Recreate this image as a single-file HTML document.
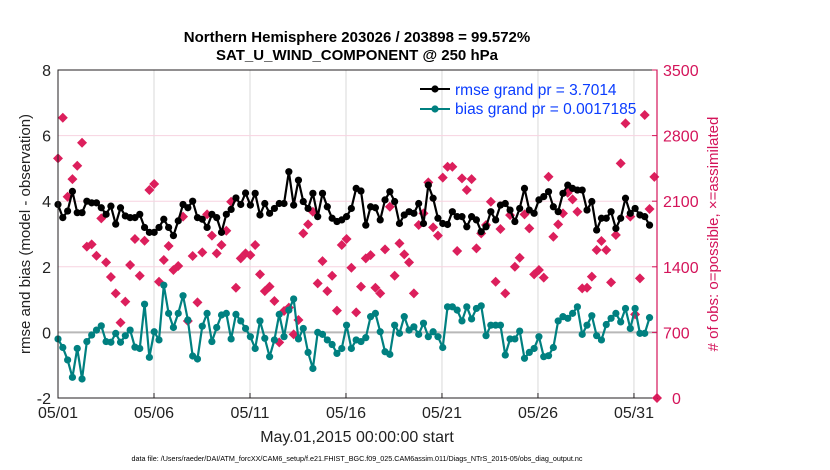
<!DOCTYPE html>
<html><head><meta charset="utf-8"><style>
html,body{margin:0;padding:0;background:#fff;}
svg{display:block;font-family:"Liberation Sans",Arial,sans-serif;}
</style></head><body>
<svg id="chart" width="830" height="470" viewBox="0 0 830 470">
<rect width="830" height="470" fill="#fff"/>
<text x="357" y="42" text-anchor="middle" font-size="15" font-weight="bold" fill="#000">Northern Hemisphere 203026 / 203898 = 99.572%</text>
<text x="357" y="60" text-anchor="middle" font-size="15" font-weight="bold" fill="#000">SAT_U_WIND_COMPONENT @ 250 hPa</text>
<g id="grid"></g>
<g id="series"></g>
<rect x="58" y="70" width="599" height="328" fill="none" stroke="#231f20" stroke-width="1"/>
<line x1="657" y1="70" x2="657" y2="398" stroke="#d4145a" stroke-width="1.2"/>
<g id="axes"></g>
<text transform="translate(30,234) rotate(-90)" text-anchor="middle" font-size="15" fill="#222">rmse and bias (model - observation)</text>
<text transform="translate(718,234) rotate(-90)" text-anchor="middle" font-size="15" fill="#d4145a"># of obs: o=possible, ×=assimilated</text>
<text x="357" y="442" text-anchor="middle" font-size="16" fill="#222">May.01,2015 00:00:00 start</text>
<text x="357" y="461" text-anchor="middle" font-size="7.2" fill="#000">data file: /Users/raeder/DAI/ATM_forcXX/CAM6_setup/f.e21.FHIST_BGC.f09_025.CAM6assim.011/Diags_NTrS_2015-05/obs_diag_output.nc</text>
<g>
<line x1="420" y1="89" x2="450" y2="89" stroke="#000" stroke-width="2"/>
<circle cx="435" cy="89" r="3.6" fill="#000"/>
<text x="455" y="95" font-size="15.5" fill="#0a3cff">rmse grand pr = 3.7014</text>
<line x1="420" y1="109" x2="450" y2="109" stroke="#008080" stroke-width="2"/>
<circle cx="435" cy="109" r="3.6" fill="#008080"/>
<text x="455" y="114" font-size="15.5" fill="#0a3cff">bias grand pr = 0.0017185</text>
</g>
</svg>
<script>
const rmseVals=[3.9,3.5,3.7,4.3,3.65,3.65,4.0,3.95,3.95,3.8,3.6,3.85,3.3,3.8,3.55,3.5,3.5,3.6,3.2,3.05,3.05,3.2,3.45,3.2,2.95,3.4,3.9,3.8,4.0,3.5,3.45,3.2,3.6,3.5,3.05,3.6,3.75,4.1,3.9,4.25,
3.88,4.24,3.58,3.93,3.63,3.78,3.93,3.93,4.90,3.88,4.64,3.99,3.78,4.24,3.53,4.24,3.83,3.48,3.38,3.43,3.53,3.78,4.39,4.31,3.27,3.83,3.80,3.43,4.04,4.29,3.99,3.32,3.58,3.68,3.63,3.93,3.32,4.49,4.09,3.48,3.32,3.29,
3.68,3.53,3.53,3.22,3.53,3.43,3.07,3.22,3.68,3.43,3.88,3.93,3.73,3.38,3.78,4.39,3.73,3.63,4.04,4.14,4.29,3.83,3.68,4.24,4.49,4.39,4.34,4.34,3.73,3.99,3.12,3.48,3.48,3.68,3.17,3.48,4.09,3.63,3.78,3.58,3.53,3.27];
const biasVals=[-0.20,-0.46,-0.84,-1.37,-0.49,-1.42,-0.28,-0.08,0.07,0.20,-0.28,-0.30,-0.03,-0.30,-0.10,0.07,-0.45,-0.49,0.86,-0.76,0.02,-0.23,1.44,0.58,0.15,0.58,1.12,0.38,-0.72,-0.81,0.19,0.58,-0.28,0.15,0.53,0.58,-0.20,0.55,0.35,0.12,
-0.13,-0.49,0.35,-0.18,-0.74,-0.23,0.55,-0.13,0.68,1.02,-0.20,0.12,-0.61,-1.10,0.00,-0.06,-0.23,-0.37,-0.64,-0.49,0.22,-0.49,-0.23,-0.28,-0.16,0.48,0.58,0.02,-0.59,-0.67,0.22,-0.03,0.48,0.07,0.17,-0.06,0.28,-0.13,0.02,-0.13,-0.46,0.78,
0.78,0.68,0.35,0.78,0.41,0.73,0.81,-0.10,0.22,0.22,0.22,-0.69,-0.20,-0.20,0.04,-0.79,-0.61,-0.49,-0.13,-0.74,-0.71,-0.46,0.35,0.48,0.43,0.58,0.78,-0.06,0.22,0.51,-0.10,-0.23,0.24,0.43,0.58,0.32,0.73,0.12,0.73,-0.03,-0.03,0.45];
const obsVals=[2557,2991,2148,2336,2478,2724,1615,1639,1518,1917,1447,1291,1117,804,1028,1419,1696,1305,1678,2219,2283,1241,1472,1622,1366,1408,1935,822,1515,1021,1554,1960,1732,1543,1632,1785,2094,1177,1490,1543,
1525,1632,1319,1141,1188,1035,594,928,964,679,832,1757,1853,1988,1223,1461,1141,1305,932,1632,1696,1390,914,1188,1490,1525,1177,1117,1586,2041,1305,1650,1532,1447,1117,1846,1970,2301,1821,1732,2351,2468,
2468,1568,2344,2219,2336,1597,1757,1846,2094,1241,1803,1117,1952,1401,1497,1960,1810,1319,1366,1284,2361,1721,1853,1970,2190,2119,1988,1170,1177,1295,1579,1675,1579,1234,1739,2504,2931,1935,893,1277,3020,2017,2360,0];
const leftTicks=[-2,0,2,4,6,8];
const rightTicks=[0,700,1400,2100,2800,3500];
const dateTicks=["05/01","05/06","05/11","05/16","05/21","05/26","05/31"];
const dateTickDays=[0,5,10,15,20,25,30];

const X0=58,X1=657,Y0=398,Y1=70,DMAX=31.2;
const xS=d=>X0+(d/DMAX)*(X1-X0);
const yL=v=>Y0-(v+2)/10*(Y0-Y1);
const yR=v=>Y0-v/3500*(Y0-Y1);
const dayOf=i=>i*0.2505;
const NS="http://www.w3.org/2000/svg";
function mk(tag,attrs,parent){const e=document.createElementNS(NS,tag);for(const k in attrs)e.setAttribute(k,attrs[k]);parent.appendChild(e);return e;}
const grid=document.getElementById('grid'),axes=document.getElementById('axes'),series=document.getElementById('series');

dateTickDays.forEach((d,k)=>{
  const x=xS(d);
  if(k>0){const g=mk('line',{x1:x,y1:Y1,x2:x,y2:Y0,stroke:'#d9d9d9','stroke-width':1},grid);
  
  }
  const t=mk('line',{x1:x,y1:Y0,x2:x,y2:Y0-5,stroke:'#231f20'},axes);
  
  
  const l=mk('text',{x:x,y:418,'text-anchor':'middle','font-size':16,fill:'#222'},axes);
  l.textContent=dateTicks[k];
  
  
});
leftTicks.forEach(v=>{
  const y=yL(v);
  if(v>-2&&v<8&&v!==0){const g=mk('line',{x1:X0,y1:y,x2:X1,y2:y,stroke:'#f7d3e0','stroke-width':1},grid);
  
  }
  const l=mk('text',{x:51,y:y+6,'text-anchor':'end','font-size':16,fill:'#222'},axes);
  l.textContent=v;
  
  
});
const zl=mk('line',{x1:X0,y1:yL(0),x2:X1,y2:yL(0),stroke:'#b8b8b8','stroke-width':2},grid);


rightTicks.forEach(v=>{
  const y=yR(v);
  const t=mk('line',{x1:X1,y1:y,x2:X1-5,y2:y,stroke:'#d4145a'},axes);
  
  
  const l=mk('text',{x:v===0?672:663,y:y+6,'font-size':16,fill:'#d4145a'},axes);
  l.textContent=v;
  
  
});

obsVals.forEach((v,i)=>{
  const x=i===obsVals.length-1?X1:xS(dayOf(i)),y=yR(v);
  const m=mk('path',{d:`M${x-5},${y}L${x},${y-5}L${x+5},${y}L${x},${y+5}Z`,fill:'#dc1f5c'},series);
  
  
});
function line(vals,color,name,mname){
  const pts=vals.map((v,i)=>[xS(dayOf(i)),yL(v)]);
  const p=mk('polyline',{points:pts.map(p=>p.join(',')).join(' '),fill:'none',stroke:color,'stroke-width':2.2,'stroke-linejoin':'round'},series);
  
  
  pts.forEach(q=>{const c=mk('circle',{cx:q[0],cy:q[1],r:3.6,fill:color},series);
  
  });
}
line(biasVals,'#008080','bias-line','bias-point');
line(rmseVals,'#000000','rmse-line','rmse-point');
</script>
</body></html>
